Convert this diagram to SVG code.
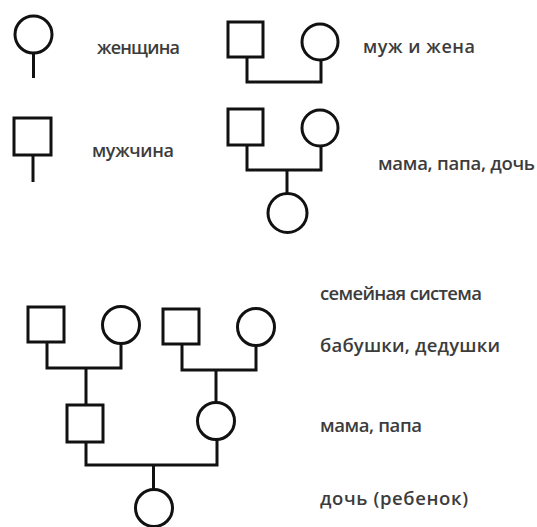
<svg xmlns="http://www.w3.org/2000/svg" width="537" height="527" viewBox="0 0 537 527">
<style>
.s{fill:none;stroke:#111;stroke-width:3;stroke-linejoin:miter}
.t{font-family:"Open Sans","Liberation Sans",sans-serif;font-size:18.5px;font-weight:600;fill:#3c3c3c}
.b{font-size:18px}
</style>
<rect width="537" height="527" fill="#fff"/>
<g id="legend-woman">
<circle class="s" cx="33.5" cy="34.5" r="18.5"/>
<line class="s" x1="33.5" y1="53" x2="33.5" y2="78"/>
<text class="t b" x="97" y="54" textLength="83">женщина</text>
</g>
<g id="legend-man">
<rect class="s" x="14" y="118" width="37" height="37"/>
<line class="s" x1="33" y1="155" x2="33" y2="182"/>
<text class="t b" x="92" y="157" textLength="82">мужчина</text>
</g>
<g id="couple">
<rect class="s" x="228" y="22" width="35" height="35"/>
<circle class="s" cx="320" cy="42" r="18"/>
<text class="t b" x="363" y="53" textLength="112">муж и жена</text>
</g>
<g id="family">
<rect class="s" x="228" y="109" width="35" height="36"/>
<circle class="s" cx="320" cy="128" r="18"/>
<circle class="s" cx="287.5" cy="213" r="19.5"/>
<text class="t" x="378" y="170" textLength="157">мама, папа, дочь</text>
</g>
<g id="tree">
<rect id="grandpa1" class="s" x="28" y="307" width="36" height="35"/>
<circle id="grandma1" class="s" cx="121" cy="325" r="18.5"/>
<rect id="grandpa2" class="s" x="163" y="309" width="36" height="35"/>
<circle id="grandma2" class="s" cx="256" cy="327" r="18.5"/>
<rect id="papa" class="s" x="67" y="405" width="36" height="37"/>
<circle id="mama" class="s" cx="216" cy="421" r="18.5"/>
<circle id="daughter" class="s" cx="154" cy="508" r="18.5"/>
<text class="t" x="320" y="300" textLength="162">семейная система</text>
<text class="t" x="320" y="352" textLength="180">бабушки, дедушки</text>
<text class="t" x="320" y="432" textLength="102">мама, папа</text>
<text class="t" x="320" y="505" textLength="148">дочь (ребенок)</text>
</g>
<g id="connectors" class="s">
<polyline points="247,57 247,82 321,82 321,60"/>
<polyline points="247,145 247,170 321,170 321,146"/>
<line x1="287" y1="170" x2="287" y2="193.5"/>
<polyline points="47,342 47,368 121,368 121,343.5"/>
<line x1="86" y1="368" x2="86" y2="405"/>
<polyline points="182,344 182,370 256,370 256,345.5"/>
<line x1="216" y1="370" x2="216" y2="402.5"/>
<polyline points="86,442 86,465 217,465 217,439.5"/>
<line x1="153.5" y1="465" x2="153.5" y2="489.5"/>
</g>
</svg>
